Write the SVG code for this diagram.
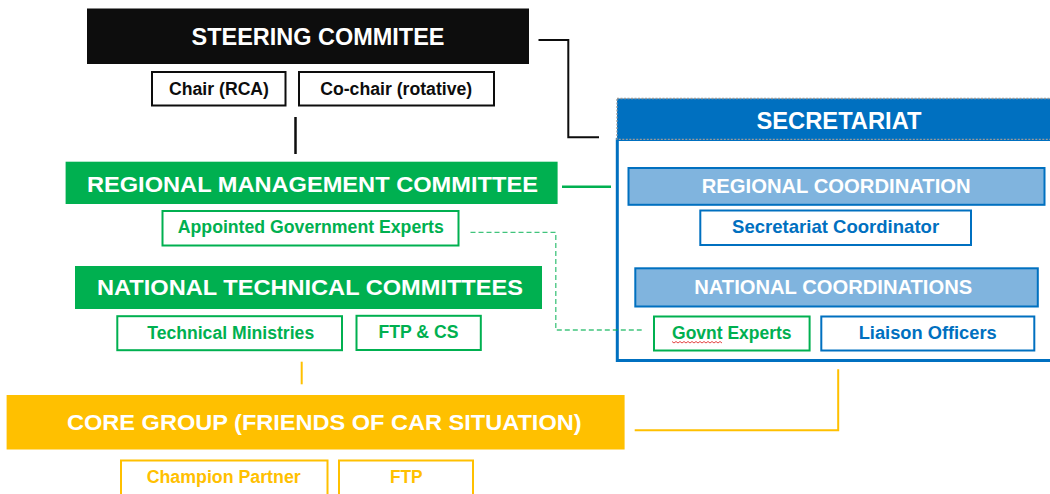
<svg xmlns="http://www.w3.org/2000/svg" width="1050" height="494" viewBox="0 0 1050 494">
<style>
text{font-family:"Liberation Sans",Arial,sans-serif;font-weight:bold;text-anchor:middle}
.w{fill:#fff}
.k{fill:#0d0d0d}
.g{fill:#00B050}
.b{fill:#0070C0}
.y{fill:#FFC000}
.big{font-size:22.5px}
.mid{font-size:21px}
.sm{font-size:17.5px}
.bx{fill:#fff;stroke-width:2}
</style>
<rect width="1050" height="494" fill="#fff"/>
<g id="steering">
<rect x="87" y="8.5" width="442" height="55.5" fill="#0d0d0d"/>
<text class="w" x="318" y="45" font-size="23" textLength="253" lengthAdjust="spacingAndGlyphs">STEERING COMMITEE</text>
</g>
<g id="chair">
<rect class="bx" x="152" y="72" width="133.5" height="33.5" stroke="#0d0d0d"/>
<text class="k sm" x="219" y="95" textLength="100" lengthAdjust="spacingAndGlyphs">Chair (RCA)</text>
</g>
<g id="cochair">
<rect class="bx" x="299" y="72" width="195" height="33.5" stroke="#0d0d0d"/>
<text class="k sm" x="396.2" y="95" textLength="152" lengthAdjust="spacingAndGlyphs">Co-chair (rotative)</text>
</g>
<g id="rmc">
<rect x="65.6" y="161.7" width="492" height="42.3" fill="#00B050"/>
<text class="w big" x="312.4" y="191.6" textLength="451" lengthAdjust="spacingAndGlyphs">REGIONAL MANAGEMENT COMMITTEE</text>
</g>
<g id="appointed">
<rect class="bx" x="162.5" y="211" width="296" height="34.5" stroke="#00B050"/>
<text class="g sm" x="310.8" y="233.3" textLength="266" lengthAdjust="spacingAndGlyphs">Appointed Government Experts</text>
</g>
<g id="ntc">
<rect x="75" y="266" width="467" height="43" fill="#00B050"/>
<text class="w big" x="310" y="295.3" textLength="426" lengthAdjust="spacingAndGlyphs">NATIONAL TECHNICAL COMMITTEES</text>
</g>
<g id="techmin">
<rect class="bx" x="117.3" y="316.2" width="224.7" height="34" stroke="#00B050"/>
<text class="g sm" x="230.7" y="339" textLength="167" lengthAdjust="spacingAndGlyphs">Technical Ministries</text>
</g>
<g id="ftpcs">
<rect class="bx" x="356.5" y="315.8" width="124.3" height="34.2" stroke="#00B050"/>
<text class="g sm" x="418.5" y="338.3" textLength="80" lengthAdjust="spacingAndGlyphs">FTP &amp; CS</text>
</g>
<g id="core">
<rect x="6.6" y="395" width="618" height="54.5" fill="#FFC000"/>
<text class="w" x="324.3" y="430" font-size="22.5" textLength="514.5" lengthAdjust="spacingAndGlyphs">CORE GROUP (FRIENDS OF CAR SITUATION)</text>
</g>
<g id="champion">
<rect class="bx" x="121" y="460.5" width="206.5" height="40" stroke="#FFC000"/>
<text class="y sm" x="223.7" y="483.3" textLength="154" lengthAdjust="spacingAndGlyphs">Champion Partner</text>
</g>
<g id="ftp">
<rect class="bx" x="339" y="460.5" width="134" height="40" stroke="#FFC000"/>
<text class="y sm" x="406.3" y="483.3" textLength="32.7" lengthAdjust="spacingAndGlyphs">FTP</text>
</g>
<g id="secretariat">
<rect x="617.3" y="139.5" width="440" height="221" fill="#fff" stroke="#0070C0" stroke-width="3"/>
<rect x="617" y="98.5" width="440" height="40.8" fill="#0070C0" stroke="#9a9a9a" stroke-width="1.3" stroke-dasharray="2,1.5"/>
<text class="w" x="839" y="128.6" font-size="23" textLength="165" lengthAdjust="spacingAndGlyphs">SECRETARIAT</text>
</g>
<g id="regcoord">
<rect x="628.5" y="168" width="416" height="36.8" fill="#80B4DE" stroke="#0070C0" stroke-width="2"/>
<text class="w mid" x="836.2" y="192.7" textLength="269" lengthAdjust="spacingAndGlyphs">REGIONAL COORDINATION</text>
</g>
<g id="seccoord">
<rect class="bx" x="700.3" y="210.5" width="270.7" height="34.5" stroke="#0070C0"/>
<text class="b" x="835.6" y="233.3" font-size="18.5" textLength="207" lengthAdjust="spacingAndGlyphs">Secretariat Coordinator</text>
</g>
<g id="natcoord">
<rect x="635.3" y="268.3" width="402.5" height="38.2" fill="#80B4DE" stroke="#0070C0" stroke-width="2"/>
<text class="w mid" x="833.2" y="294.3" textLength="278" lengthAdjust="spacingAndGlyphs">NATIONAL COORDINATIONS</text>
</g>
<g id="govnt">
<rect class="bx" x="654" y="316.5" width="155.6" height="34" stroke="#00B050"/>
<text class="g" x="731.8" y="339.3" font-size="18" textLength="119.5" lengthAdjust="spacingAndGlyphs">Govnt Experts</text>
<polyline points="672,341.5 674,343 676,341.5 678,343 680,341.5 682,343 684,341.5 686,343 688,341.5 690,343 692,341.5 694,343 696,341.5 698,343 700,341.5 702,343 704,341.5 706,343 708,341.5 710,343 712,341.5 714,343 716,341.5 718,343 720,341.5 722,343" fill="none" stroke="#e03030" stroke-width="0.9"/>
</g>
<g id="liaison">
<rect class="bx" x="821.3" y="316.5" width="213" height="34" stroke="#0070C0"/>
<text class="b" x="927.7" y="339.3" font-size="18" textLength="138" lengthAdjust="spacingAndGlyphs">Liaison Officers</text>
</g>
<g id="connectors" fill="none">
<polyline points="538.5,40 568.3,40 568.3,137.3 599,137.3" stroke="#0d0d0d" stroke-width="2"/>
<line x1="295.5" y1="117" x2="295.5" y2="154" stroke="#0d0d0d" stroke-width="2.5"/>
<line x1="562" y1="186.7" x2="611" y2="186.7" stroke="#00B050" stroke-width="2.5"/>
<polyline points="470.5,232.3 555.8,232.3 555.8,330 641.7,330" stroke="#00B050" stroke-opacity="0.75" stroke-width="1.3" stroke-dasharray="5,3"/>
<line x1="301.7" y1="361.7" x2="301.7" y2="384.3" stroke="#FFC000" stroke-width="2"/>
<polyline points="634.7,430.3 838.2,430.3 838.2,369.3" stroke="#FFC000" stroke-width="2"/>
</g>
</svg>
